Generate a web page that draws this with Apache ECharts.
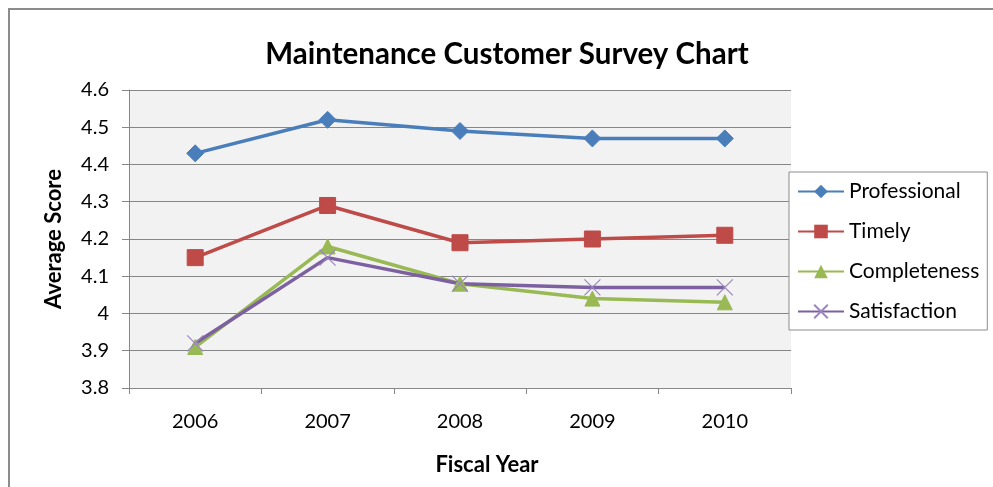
<!DOCTYPE html>
<html><head><meta charset="utf-8">
<script src="https://cdn.jsdelivr.net/npm/echarts@6/dist/echarts.min.js"></script>
<style>html,body{margin:0;padding:0;background:#fff}#c{width:993px;height:487px}</style>
</head><body><div id="c"></div>
<script>
const categories = ['2006','2007','2008','2009','2010'];
const professional = [4.43, 4.52, 4.49, 4.47, 4.47];
const timely = [4.15, 4.29, 4.19, 4.20, 4.21];
const completeness = [3.91, 4.18, 4.08, 4.04, 4.03];
const satisfaction = [3.92, 4.15, 4.08, 4.07, 4.07];
const FONT = 'Lato';
const chart = echarts.init(document.getElementById('c'));
function s(name, data, color, symbol, size) {
  return {name, type:'line', data, symbol, symbolSize:size, showSymbol:true,
    lineStyle:{color, width:3.5}, itemStyle:{color, borderColor:color},
    emphasis:{disabled:true}, z: 3};
}
chart.setOption({
  animation:false,
  backgroundColor:'#fff',
  graphic:[{type:'polyline', shape:{points:[[9,487],[9,9],[993,9]]}, style:{stroke:'#8c8c8c', lineWidth:2, fill:null}, silent:true}],
  title:[
    {text:'Maintenance Customer Survey Chart', left:502, top:34, textAlign:'center',
     textStyle:{fontFamily:FONT, fontSize:29.5, fontWeight:'bold', color:'#000'}},
    {text:'Fiscal Year', left:482, top:449, textAlign:'center',
     textStyle:{fontFamily:FONT, fontSize:22, fontWeight:'bold', color:'#000'}}
  ],
  grid:{left:129, right:202, top:90, bottom:99, show:true, backgroundColor:'#f2f2f2', borderWidth:0},
  legend:{orient:'vertical', left:789, top:172, width:200, padding:[9,8,8,8], itemGap:19,
    itemWidth:46, itemHeight:17, backgroundColor:'#fff', borderColor:'#8c8c8c', borderWidth:1,
    textStyle:{fontFamily:FONT, fontSize:21, color:'#000', padding:[0,24,0,0]},
    data:['Professional','Timely','Completeness','Satisfaction']},
  xAxis:{type:'category', data:categories, boundaryGap:true,
    axisLine:{lineStyle:{color:'#868686', width:1}},
    axisTick:{show:true, length:6, lineStyle:{color:'#868686'}},
    axisLabel:{fontFamily:FONT, fontSize:20, color:'#000', margin:24}},
  yAxis:{type:'value', min:3.8, max:4.6, interval:0.1,
    name:'Average Score', nameLocation:'middle', nameGap:64, nameRotate:90,
    nameTextStyle:{fontFamily:FONT, fontSize:22, fontWeight:'bold', color:'#000'},
    axisLine:{show:true, lineStyle:{color:'#868686'}},
    axisTick:{show:true, length:7, lineStyle:{color:'#868686'}},
    axisLabel:{fontFamily:FONT, fontSize:20, color:'#000', margin:20,
      formatter:v=>String(Math.round(v*10)/10)},
    splitLine:{lineStyle:{color:'#868686', width:1}}},
  series:[
    s('Professional', professional, '#4a7ebb', 'diamond', 17),
    s('Timely', timely, '#be4b48', 'rect', 16),
    s('Completeness', completeness, '#98b954', 'triangle', 15),
    {name:'Satisfaction', type:'line', data:satisfaction, symbol:'path://M0,0L10,10M10,0L0,10', symbolSize:16,
     lineStyle:{color:'#7d60a0', width:3.5}, itemStyle:{color:'none', borderColor:'#9a85bf', borderWidth:1.2},
     emphasis:{disabled:true}, z:3}
  ]
});
</script></body></html>
